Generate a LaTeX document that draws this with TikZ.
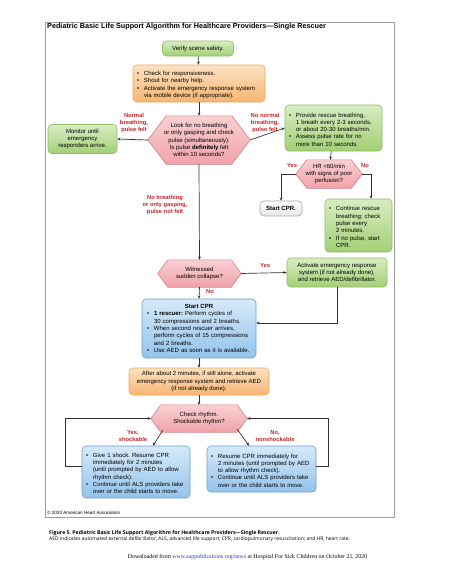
\documentclass[tikz,border=0pt]{standalone}
\usepackage{fontspec}
\setmainfont{Liberation Sans}
\newfontfamily\capfont{Open Sans}
\newfontfamily\serfont{Liberation Serif}
\usetikzlibrary{arrows.meta,backgrounds}
\frenchspacing
\definecolor{gtop}{HTML}{D8EDC3}
\definecolor{gbot}{HTML}{A3CF76}
\definecolor{gdraw}{HTML}{8DBE63}
\definecolor{otop}{HTML}{FDE2C2}
\definecolor{obot}{HTML}{F6B572}
\definecolor{odraw}{HTML}{E9A862}
\definecolor{ptop}{HTML}{FAD0D3}
\definecolor{pbot}{HTML}{EFA3A9}
\definecolor{pdraw}{HTML}{D47E86}
\definecolor{btop}{HTML}{D6E9F9}
\definecolor{bbot}{HTML}{93C3EB}
\definecolor{bdraw}{HTML}{6E9FCC}
\definecolor{labred}{HTML}{C1272D}
\definecolor{linkblue}{HTML}{2B3FB0}
\newcommand\fs{\fontsize{6}{7.3}\selectfont}
\newcommand\bitem[1]{\par\hangindent=7pt\hangafter=1\noindent\makebox[7pt][l]{\textbullet}#1\par}
\newcommand\nl{\newline}
\newcommand\hexa[2]{\path[hexfill] (#1.west) -- ([xshift=#2]#1.north west) -- ([xshift=-#2]#1.north east) -- (#1.east) -- ([xshift=-#2]#1.south east) -- ([xshift=#2]#1.south west) -- cycle;}
\tikzset{
  box/.style={rounded corners=4pt, line width=0.6pt, font=\fs, inner sep=0pt},
  gbox/.style={box, draw=gdraw, top color=gtop, bottom color=gbot},
  obox/.style={box, draw=odraw, top color=otop, bottom color=obot},
  bbox/.style={box, draw=bdraw, top color=btop, bottom color=bbot},
  graybox/.style={box, draw=gray!70, top color=white, bottom color=gray!20, font=\fs\bfseries},
  hexnode/.style={inner sep=0pt, font=\fs, align=center},
  hexfill/.style={draw=pdraw, line width=0.6pt, top color=ptop, bottom color=pbot},
  lab/.style={font=\fontsize{5.8}{7}\selectfont\bfseries, text=labred, align=center, inner sep=0pt},
  conn/.style={draw=black!80, line width=0.7pt},
  arr/.style={conn, -{Stealth[length=3.2pt,width=2.8pt]}},
}
\begin{document}
\begin{tikzpicture}[x=1pt,y=-1pt]
\useasboundingbox (0,0) rectangle (474,581);
\draw[gray!75, line width=0.8pt] (45,22) rectangle (394,517);
\node[anchor=west, inner sep=0pt, font=\fontsize{7.25}{8}\selectfont\bfseries] (title) at (47,26.5) {Pediatric Basic Life Support Algorithm for Healthcare Providers—Single Rescuer};

\node[gbox, minimum width=71, minimum height=15, align=center] (verify) at (198,48.5) {Verify scene safety.};
\node[obox, minimum width=132, minimum height=37, text width=124, align=left] (resp) at (199,83.5) {\bitem{Check for responsiveness.}\bitem{Shout for nearby help.}\bitem{Activate the emergency response system\nl via mobile device (if appropriate).}};
\node[hexnode, minimum width=102, minimum height=48] (look) at (199,140) {Look for no breathing\\or only gasping and check\\pulse (simultaneously).\\Is pulse \textbf{definitely} felt\\within 10 seconds?};
\node[gbox, minimum width=69, minimum height=29, align=center] (monitor) at (82.5,139) {Monitor until\\emergency\\responders arrive.};
\node[lab] (lnormal) at (134,123) {Normal\\breathing,\\pulse felt};
\node[lab] (lnonormal) at (265,123) {No normal\\breathing,\\pulse felt};
\node[gbox, minimum width=97, minimum height=46, text width=89, align=left] (rescue) at (333.5,128) {\bitem{Provide rescue breathing,\nl 1 breath every 2-3 seconds,\nl or about 20-30 breaths/min.}\bitem{Assess pulse rate for no\nl more than 10 seconds.}};
\node[hexnode, minimum width=66, minimum height=28] (hr) at (329,174) {HR <60/min\\with signs of poor\\perfusion?};
\node[lab] (lyes1) at (292,166) {Yes};
\node[lab] (lno1) at (365,166) {No};
\node[graybox, minimum width=42, minimum height=15, align=center] (startcpr) at (281,208.5) {Start CPR.};
\node[gbox, minimum width=67, minimum height=53, text width=59, align=left] (cont) at (358.5,225.5) {\bitem{Continue rescue\nl breathing; check\nl pulse every\nl 2 minutes.}\bitem{If no pulse, start\nl CPR.}};
\node[lab] (lnobreath) at (165,205) {No breathing\\or only gasping,\\pulse not felt};
\node[hexnode, minimum width=83, minimum height=27] (wit) at (199.5,273.5) {Witnessed\\sudden collapse?};
\node[lab] (lyes2) at (265,266) {Yes};
\node[gbox, minimum width=100, minimum height=29, align=center] (act) at (337,272.5) {Activate emergency response\\system (if not already done),\\and retrieve AED/defibrillator.};
\node[lab] (lno2) at (210,292) {No};
\node[bbox, minimum width=114, minimum height=59, text width=104, align=left] (cpr) at (199,328.5) {{\centering\textbf{Start CPR}\par}\bitem{\textbf{1 rescuer:} Perform cycles of\nl 30 compressions and 2 breaths.}\bitem{When second rescuer arrives,\nl perform cycles of 15 compressions\nl and 2 breaths.}\bitem{Use AED as soon as it is available.}};
\node[obox, minimum width=140, minimum height=27, align=center] (after) at (199,381.5) {After about 2 minutes, if still alone, activate\\emergency response system and retrieve AED\\(if not already done).};
\node[hexnode, minimum width=96, minimum height=27] (chk) at (199,418.5) {Check rhythm.\\Shockable rhythm?};
\node[lab] (lyes3) at (133,436) {Yes,\\shockable};
\node[lab] (lno3) at (275,436) {No,\\nonshockable};
\node[bbox, minimum width=108, minimum height=52, text width=100, align=left] (shock) at (136,472) {\bitem{Give 1 shock. Resume CPR\nl immediately for 2 minutes\nl (until prompted by AED to allow\nl rhythm check).}\bitem{Continue until ALS providers take\nl over or the child starts to move.}};
\node[bbox, minimum width=109, minimum height=46, text width=101, align=left] (noshock) at (261.5,469) {\bitem{Resume CPR immediately for\nl 2 minutes (until prompted by AED\nl to allow rhythm check).}\bitem{Continue until ALS providers take\nl over or the child starts to move.}};

\begin{scope}[on background layer]
\fill[white] (0,0) rectangle (474,581);
\hexa{look}{18.5}
\hexa{hr}{11}
\hexa{wit}{10}
\hexa{chk}{10}
\end{scope}

\draw[arr] (verify) -- (resp);
\draw[arr] (resp) -- (look);
\draw[arr] (look.west) -- (monitor.east);
\draw[arr] (look.east) -- (rescue.west);
\draw[arr] (rescue) -- (hr);
\draw[arr] (hr.west) -| (startcpr.north);
\draw[arr] (hr.east) -| ([xshift=12.5pt]cont.north);
\draw[arr] (look.south) -- (wit.north);
\draw[arr] (wit.east) -- (act.west);
\draw[arr] (wit.south) -- (cpr.north);
\draw[arr] (act.south) |- ([yshift=5.5pt]cpr.east);
\draw[arr] (cpr) -- (after);
\draw[arr] (after) -- (chk);
\draw[arr] ([xshift=12pt,yshift=2pt]chk.south west) -- ([xshift=17pt]shock.north);
\draw[arr] ([xshift=-10pt,yshift=3pt]chk.south east) -- ([xshift=-12.5pt]noshock.north);
\draw[arr] ([yshift=6pt]shock.west) -- ++(-16,0) |- (chk.west);
\draw[arr] ([yshift=3pt]noshock.east) -- ++(12,0) |- (chk.east);

\node[anchor=west, inner sep=0pt, font=\fontsize{4.6}{5}\selectfont] (copy) at (47,513) {© 2020 American Heart Association};
\node[anchor=west, inner sep=0pt, font=\capfont\fontsize{5.2}{6}\selectfont\bfseries] (cap1) at (49,533) {Figure 5. Pediatric Basic Life Support Algorithm for Healthcare Providers—Single Rescuer.};
\node[anchor=west, inner sep=0pt, font=\capfont\fontsize{4.95}{5.5}\selectfont] (cap2) at (49,539.5) {AED indicates automated external defibrillator; ALS, advanced life support; CPR, cardiopulmonary resuscitation; and HR, heart rate.};
\node[inner sep=0pt, font=\serfont\fontsize{5.9}{7}\selectfont] (dl) at (247.5,557) {Downloaded from \textcolor{linkblue}{www.aappublications.org/news} at Hospital For Sick Children on October 21, 2020};
\end{tikzpicture}
\end{document}
